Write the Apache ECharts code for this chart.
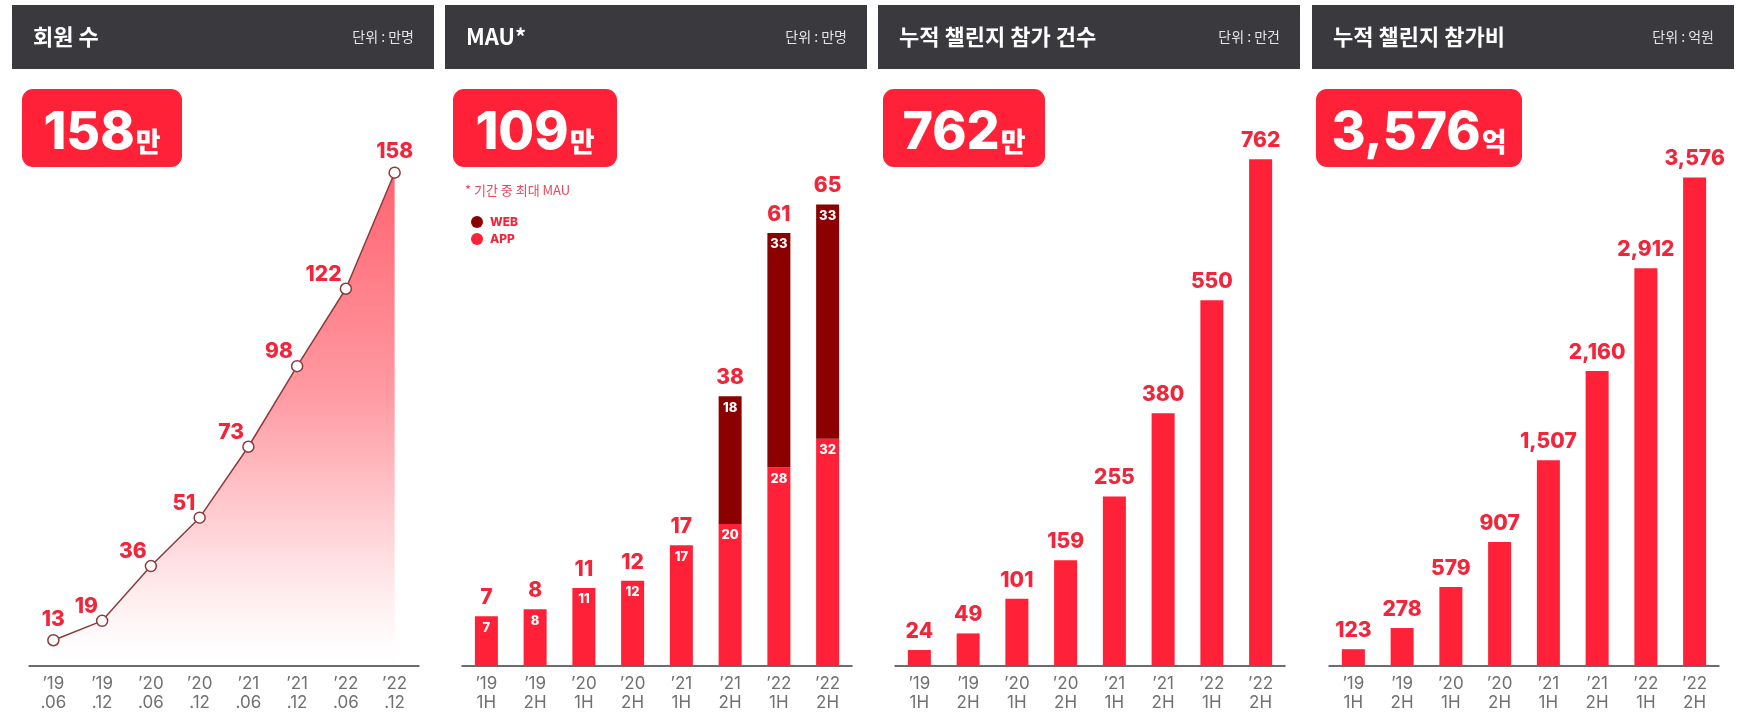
<!DOCTYPE html>
<html>
<head>
<meta charset="utf-8">
<script src="https://cdn.jsdelivr.net/npm/echarts@6/dist/echarts.min.js"></script>
<style>
html,body{margin:0;padding:0;background:#fff;}
#chart{width:1747px;height:712px;}
</style>
</head>
<body>
<div id="chart"></div>
<script>
// ---- data ----
const memberCats = ["’19\n.06","’19\n.12","’20\n.06","’20\n.12","’21\n.06","’21\n.12","’22\n.06","’22\n.12"];
const halfCats = ["’19\n1H","’19\n2H","’20\n1H","’20\n2H","’21\n1H","’21\n2H","’22\n1H","’22\n2H"];
const members = [13, 19, 36, 51, 73, 98, 122, 158];
const mauApp = [7, 8, 11, 12, 17, 20, 28, 32];
const mauWeb = [null, null, null, null, null, 18, 33, 33];
const challenges = [24, 49, 101, 159, 255, 380, 550, 762];
const fees = [123, 278, 579, 907, 1507, 2160, 2912, 3576];
const panelTitles = ["회원 수", "MAU*", "누적 챌린지 참가 건수", "누적 챌린지 참가비"];
const panelUnits = ["단위 : 만명", "단위 : 만명", "단위 : 만건", "단위 : 억원"];
const badgeValues = ["158", "109", "762", "3,576"];
const badgeUnits = ["만", "만", "만", "억"];
const mauNote = "* 기간 중 최대 MAU";

// ---- layout / style ----
const RED = '#fe2137';
const DARK = '#8b0000';
const LABEL_RED = '#f2253a';
const NUMFONT = 'Inter, "Noto Sans CJK KR", sans-serif';
const KRFONT = '"Noto Sans CJK KR", sans-serif';
const headerX = [12, 445, 878, 1312];
const headerW = 422;
const badgeX = [22, 453, 883, 1316];
const badgeW = [160, 164, 162, 206];
const gridLeft = [29, 462, 895, 1329];
const gridW = 390;
const gridTop = [134, 169, 114, 106];
const gridBottom = 46;

const mauTotal = mauApp.map((v, i) => v + (mauWeb[i] || 0));

const graphics = [];
for (let i = 0; i < 4; i++) {
  graphics.push({
    type: 'rect', shape: {x: headerX[i], y: 5, width: headerW, height: 64},
    style: {fill: '#3a393e'}, silent: true
  });
  graphics.push({
    type: 'text', x: headerX[i] + 21, y: 37,
    style: {text: panelTitles[i], fill: '#fff', font: 'bold 22px ' + KRFONT, verticalAlign: 'middle', align: 'left'}
  });
  graphics.push({
    type: 'text', x: headerX[i] + headerW - 20, y: 37,
    style: {text: panelUnits[i], fill: '#e4e4e4', font: '14px ' + KRFONT, verticalAlign: 'middle', align: 'right'}
  });
  graphics.push({
    type: 'rect', shape: {x: badgeX[i], y: 89, width: badgeW[i], height: 78, r: 11},
    style: {fill: RED}, silent: true
  });
  graphics.push({
    type: 'text', x: badgeX[i] + badgeW[i] / 2, y: 129,
    style: {
      text: '{n|' + badgeValues[i] + '}{u|' + badgeUnits[i] + '}',
      fill: '#fff', align: 'center', verticalAlign: 'middle',
      rich: {
        n: {fontSize: 52, fontWeight: 800, fontFamily: NUMFONT, fill: '#fff', lineHeight: 60, verticalAlign: 'bottom'},
        u: {fontSize: 27, fontWeight: 800, fontFamily: KRFONT, fill: '#fff', lineHeight: 60, verticalAlign: 'bottom', padding: [0, 0, 4, 1]}
      }
    }
  });
}
graphics.push({
  type: 'text', x: 465, y: 190,
  style: {text: mauNote, fill: '#e8475a', font: '13px ' + KRFONT, verticalAlign: 'middle', align: 'left'}
});

const yRanges = [[5, 170], [0, 70], [0, 830], [0, 4100]];
const grids = [], xAxes = [], yAxes = [];
for (let i = 0; i < 4; i++) {
  grids.push({left: gridLeft[i], width: gridW, top: gridTop[i], bottom: gridBottom, containLabel: false});
  xAxes.push({
    type: 'category', gridIndex: i, data: i === 0 ? memberCats : halfCats,
    axisLine: {lineStyle: {color: '#3d3d3d', width: 1.5}},
    axisTick: {show: false},
    axisLabel: {color: '#707070', fontSize: 17, lineHeight: 19, margin: 8, fontFamily: NUMFONT}
  });
  yAxes.push({
    type: 'value', gridIndex: i, min: yRanges[i][0], max: yRanges[i][1],
    show: false, splitLine: {show: false}
  });
}

const topLabel = (fmt) => ({
  show: true, position: 'top', distance: 8, color: LABEL_RED,
  fontSize: 21, fontWeight: 800, fontFamily: NUMFONT, formatter: fmt
});
const insideLabel = {
  show: true, position: 'insideTop', distance: 5, color: '#fff',
  fontSize: 13, fontWeight: 800, fontFamily: NUMFONT
};

const option = {
  backgroundColor: '#fff',
  animation: false,
  graphic: graphics,
  grid: grids,
  xAxis: xAxes,
  yAxis: yAxes,
  legend: {
    data: ['WEB', 'APP'], orient: 'vertical', left: 466, top: 211,
    itemWidth: 12, itemHeight: 12, itemGap: 5, icon: 'circle',
    textStyle: {color: LABEL_RED, fontWeight: 800, fontSize: 12, fontFamily: NUMFONT, padding: [0, 0, 0, 2]}
  },
  series: [
    {
      type: 'line', xAxisIndex: 0, yAxisIndex: 0,
      data: members.map((v, i) => ({
        value: v,
        label: (i === 0 || i === members.length - 1) ? {position: 'top', distance: 4, offset: [0, 0]} : undefined
      })),
      symbol: 'circle', symbolSize: 11,
      lineStyle: {color: '#8a3c3c', width: 1.5},
      itemStyle: {color: '#fff', borderColor: '#8a3c3c', borderWidth: 1.5},
      areaStyle: {
        color: {type: 'linear', x: 0, y: 0, x2: 0, y2: 1, colorStops: [
          {offset: 0, color: 'rgba(255,33,52,1)'},
          {offset: 0.45, color: 'rgba(255,33,52,0.65)'},
          {offset: 0.8, color: 'rgba(255,33,52,0.18)'},
          {offset: 0.95, color: 'rgba(255,33,52,0.02)'},
          {offset: 1, color: 'rgba(255,33,52,0)'}
        ]}
      },
      label: {
        show: true, position: 'left', distance: 2, offset: [4, -14], color: LABEL_RED,
        fontSize: 21, fontWeight: 800, fontFamily: NUMFONT
      },
      z: 3
    },
    {
      name: 'APP', type: 'bar', xAxisIndex: 1, yAxisIndex: 1, stack: 'mau',
      data: mauApp, barWidth: 23, barGap: '-100%',
      itemStyle: {color: RED}, label: insideLabel
    },
    {
      name: 'WEB', type: 'bar', xAxisIndex: 1, yAxisIndex: 1, stack: 'mau',
      data: mauWeb, barWidth: 23, barGap: '-100%',
      itemStyle: {color: DARK}, label: insideLabel
    },
    {
      name: 'total', type: 'bar', xAxisIndex: 1, yAxisIndex: 1,
      data: mauTotal, barWidth: 23, barGap: '-100%', z: 1,
      itemStyle: {color: 'rgba(0,0,0,0)'}, label: topLabel('{c}'), silent: true
    },
    {
      type: 'bar', xAxisIndex: 2, yAxisIndex: 2, data: challenges, barWidth: 23,
      itemStyle: {color: RED}, label: topLabel('{c}')
    },
    {
      type: 'bar', xAxisIndex: 3, yAxisIndex: 3, data: fees, barWidth: 23,
      itemStyle: {color: RED},
      label: topLabel(p => Number(p.value).toLocaleString('en-US'))
    }
  ]
};

const chart = echarts.init(document.getElementById('chart'), null, {renderer: 'canvas'});
chart.setOption(option);
</script>
</body>
</html>
